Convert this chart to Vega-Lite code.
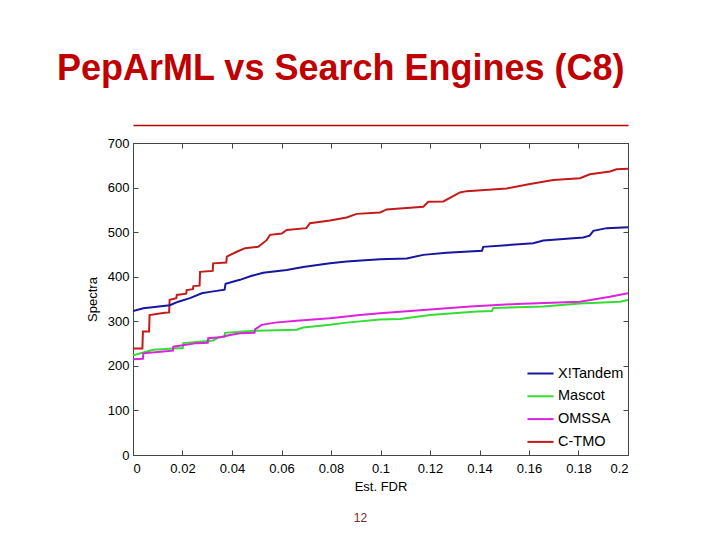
{
  "$schema": "https://vega.github.io/schema/vega-lite/v6.json",
  "autosize": "none",
  "width": 495,
  "height": 312,
  "padding": {"left": 133, "top": 143, "right": 92, "bottom": 85},
  "background": "white",
  "title": {
    "text": "PepArML vs Search Engines (C8)",
    "anchor": "start",
    "frame": "group",
    "dx": -76,
    "offset": 37,
    "fontSize": 36,
    "font": "Liberation Sans",
    "fontWeight": "bold",
    "color": "#c00000"
  },
  "config": {
    "view": {"stroke": "#555555", "strokeWidth": 1},
    "font": "Liberation Sans",
    "axis": {"grid": false, "domainColor": "#444444", "tickColor": "#444444", "labelColor": "#000000", "titleColor": "#000000", "labelFont": "Liberation Sans", "titleFont": "Liberation Sans", "labelFontSize": 13, "titleFontSize": 13, "titleFontWeight": "normal"}
  },
  "data": {
    "values": [
      {"engine": "C-TMO", "fdr": 0, "spectra": 239},
      {"engine": "C-TMO", "fdr": 0.0038, "spectra": 239},
      {"engine": "C-TMO", "fdr": 0.004, "spectra": 277},
      {"engine": "C-TMO", "fdr": 0.0065, "spectra": 277},
      {"engine": "C-TMO", "fdr": 0.0067, "spectra": 314},
      {"engine": "C-TMO", "fdr": 0.0128, "spectra": 319},
      {"engine": "C-TMO", "fdr": 0.0146, "spectra": 320},
      {"engine": "C-TMO", "fdr": 0.0148, "spectra": 348},
      {"engine": "C-TMO", "fdr": 0.0175, "spectra": 352},
      {"engine": "C-TMO", "fdr": 0.0177, "spectra": 359},
      {"engine": "C-TMO", "fdr": 0.0215, "spectra": 362},
      {"engine": "C-TMO", "fdr": 0.0217, "spectra": 370},
      {"engine": "C-TMO", "fdr": 0.0242, "spectra": 372},
      {"engine": "C-TMO", "fdr": 0.0244, "spectra": 379},
      {"engine": "C-TMO", "fdr": 0.0269, "spectra": 380},
      {"engine": "C-TMO", "fdr": 0.0271, "spectra": 411},
      {"engine": "C-TMO", "fdr": 0.0322, "spectra": 413},
      {"engine": "C-TMO", "fdr": 0.0324, "spectra": 430},
      {"engine": "C-TMO", "fdr": 0.0377, "spectra": 432},
      {"engine": "C-TMO", "fdr": 0.0379, "spectra": 445},
      {"engine": "C-TMO", "fdr": 0.0419, "spectra": 456},
      {"engine": "C-TMO", "fdr": 0.0453, "spectra": 464},
      {"engine": "C-TMO", "fdr": 0.0506, "spectra": 467},
      {"engine": "C-TMO", "fdr": 0.054, "spectra": 482},
      {"engine": "C-TMO", "fdr": 0.0554, "spectra": 494},
      {"engine": "C-TMO", "fdr": 0.0601, "spectra": 497},
      {"engine": "C-TMO", "fdr": 0.0621, "spectra": 505},
      {"engine": "C-TMO", "fdr": 0.07, "spectra": 509},
      {"engine": "C-TMO", "fdr": 0.0715, "spectra": 520},
      {"engine": "C-TMO", "fdr": 0.0796, "spectra": 526},
      {"engine": "C-TMO", "fdr": 0.0863, "spectra": 533},
      {"engine": "C-TMO", "fdr": 0.0904, "spectra": 541},
      {"engine": "C-TMO", "fdr": 0.0998, "spectra": 544},
      {"engine": "C-TMO", "fdr": 0.1025, "spectra": 551},
      {"engine": "C-TMO", "fdr": 0.1173, "spectra": 557},
      {"engine": "C-TMO", "fdr": 0.1193, "spectra": 568},
      {"engine": "C-TMO", "fdr": 0.1254, "spectra": 569},
      {"engine": "C-TMO", "fdr": 0.1321, "spectra": 589},
      {"engine": "C-TMO", "fdr": 0.1348, "spectra": 592},
      {"engine": "C-TMO", "fdr": 0.151, "spectra": 598},
      {"engine": "C-TMO", "fdr": 0.1604, "spectra": 608},
      {"engine": "C-TMO", "fdr": 0.1698, "spectra": 617},
      {"engine": "C-TMO", "fdr": 0.1806, "spectra": 621},
      {"engine": "C-TMO", "fdr": 0.1846, "spectra": 630},
      {"engine": "C-TMO", "fdr": 0.1927, "spectra": 636},
      {"engine": "C-TMO", "fdr": 0.1954, "spectra": 641},
      {"engine": "C-TMO", "fdr": 0.2, "spectra": 642},

      {"engine": "X!Tandem", "fdr": 0, "spectra": 323},
      {"engine": "X!Tandem", "fdr": 0.0042, "spectra": 329},
      {"engine": "X!Tandem", "fdr": 0.0149, "spectra": 336},
      {"engine": "X!Tandem", "fdr": 0.0183, "spectra": 344},
      {"engine": "X!Tandem", "fdr": 0.023, "spectra": 352},
      {"engine": "X!Tandem", "fdr": 0.0278, "spectra": 363},
      {"engine": "X!Tandem", "fdr": 0.0311, "spectra": 366},
      {"engine": "X!Tandem", "fdr": 0.037, "spectra": 371},
      {"engine": "X!Tandem", "fdr": 0.0374, "spectra": 384},
      {"engine": "X!Tandem", "fdr": 0.0432, "spectra": 393},
      {"engine": "X!Tandem", "fdr": 0.048, "spectra": 402},
      {"engine": "X!Tandem", "fdr": 0.0526, "spectra": 409},
      {"engine": "X!Tandem", "fdr": 0.0621, "spectra": 415},
      {"engine": "X!Tandem", "fdr": 0.0688, "spectra": 422},
      {"engine": "X!Tandem", "fdr": 0.0796, "spectra": 430},
      {"engine": "X!Tandem", "fdr": 0.0863, "spectra": 434},
      {"engine": "X!Tandem", "fdr": 0.0998, "spectra": 439},
      {"engine": "X!Tandem", "fdr": 0.1106, "spectra": 441},
      {"engine": "X!Tandem", "fdr": 0.1173, "spectra": 449},
      {"engine": "X!Tandem", "fdr": 0.1267, "spectra": 454},
      {"engine": "X!Tandem", "fdr": 0.141, "spectra": 458},
      {"engine": "X!Tandem", "fdr": 0.1415, "spectra": 467},
      {"engine": "X!Tandem", "fdr": 0.1617, "spectra": 475},
      {"engine": "X!Tandem", "fdr": 0.1658, "spectra": 481},
      {"engine": "X!Tandem", "fdr": 0.1819, "spectra": 488},
      {"engine": "X!Tandem", "fdr": 0.1845, "spectra": 492},
      {"engine": "X!Tandem", "fdr": 0.186, "spectra": 503},
      {"engine": "X!Tandem", "fdr": 0.1914, "spectra": 509},
      {"engine": "X!Tandem", "fdr": 0.2, "spectra": 511},

      {"engine": "Mascot", "fdr": 0, "spectra": 224},
      {"engine": "Mascot", "fdr": 0.0042, "spectra": 230},
      {"engine": "Mascot", "fdr": 0.0082, "spectra": 236},
      {"engine": "Mascot", "fdr": 0.0163, "spectra": 239},
      {"engine": "Mascot", "fdr": 0.0201, "spectra": 240},
      {"engine": "Mascot", "fdr": 0.0203, "spectra": 251},
      {"engine": "Mascot", "fdr": 0.0324, "spectra": 257},
      {"engine": "Mascot", "fdr": 0.0345, "spectra": 264},
      {"engine": "Mascot", "fdr": 0.037, "spectra": 265},
      {"engine": "Mascot", "fdr": 0.0372, "spectra": 274},
      {"engine": "Mascot", "fdr": 0.0446, "spectra": 277},
      {"engine": "Mascot", "fdr": 0.05, "spectra": 279},
      {"engine": "Mascot", "fdr": 0.0661, "spectra": 281},
      {"engine": "Mascot", "fdr": 0.0688, "spectra": 286},
      {"engine": "Mascot", "fdr": 0.0796, "spectra": 292},
      {"engine": "Mascot", "fdr": 0.0863, "spectra": 297},
      {"engine": "Mascot", "fdr": 0.0998, "spectra": 304},
      {"engine": "Mascot", "fdr": 0.1079, "spectra": 305},
      {"engine": "Mascot", "fdr": 0.12, "spectra": 314},
      {"engine": "Mascot", "fdr": 0.1389, "spectra": 322},
      {"engine": "Mascot", "fdr": 0.145, "spectra": 323},
      {"engine": "Mascot", "fdr": 0.1456, "spectra": 330},
      {"engine": "Mascot", "fdr": 0.1658, "spectra": 333},
      {"engine": "Mascot", "fdr": 0.1806, "spectra": 340},
      {"engine": "Mascot", "fdr": 0.1968, "spectra": 344},
      {"engine": "Mascot", "fdr": 0.2, "spectra": 348},

      {"engine": "OMSSA", "fdr": 0, "spectra": 215},
      {"engine": "OMSSA", "fdr": 0.004, "spectra": 216},
      {"engine": "OMSSA", "fdr": 0.0042, "spectra": 228},
      {"engine": "OMSSA", "fdr": 0.0122, "spectra": 232},
      {"engine": "OMSSA", "fdr": 0.0161, "spectra": 234},
      {"engine": "OMSSA", "fdr": 0.0163, "spectra": 243},
      {"engine": "OMSSA", "fdr": 0.0257, "spectra": 251},
      {"engine": "OMSSA", "fdr": 0.0302, "spectra": 252},
      {"engine": "OMSSA", "fdr": 0.0304, "spectra": 262},
      {"engine": "OMSSA", "fdr": 0.0352, "spectra": 264},
      {"engine": "OMSSA", "fdr": 0.0392, "spectra": 269},
      {"engine": "OMSSA", "fdr": 0.0432, "spectra": 273},
      {"engine": "OMSSA", "fdr": 0.0491, "spectra": 274},
      {"engine": "OMSSA", "fdr": 0.0493, "spectra": 282},
      {"engine": "OMSSA", "fdr": 0.052, "spectra": 292},
      {"engine": "OMSSA", "fdr": 0.0574, "spectra": 297},
      {"engine": "OMSSA", "fdr": 0.0661, "spectra": 301},
      {"engine": "OMSSA", "fdr": 0.0796, "spectra": 307},
      {"engine": "OMSSA", "fdr": 0.0917, "spectra": 314},
      {"engine": "OMSSA", "fdr": 0.0998, "spectra": 318},
      {"engine": "OMSSA", "fdr": 0.116, "spectra": 325},
      {"engine": "OMSSA", "fdr": 0.1362, "spectra": 333},
      {"engine": "OMSSA", "fdr": 0.155, "spectra": 339},
      {"engine": "OMSSA", "fdr": 0.1806, "spectra": 344},
      {"engine": "OMSSA", "fdr": 0.1927, "spectra": 355},
      {"engine": "OMSSA", "fdr": 0.2, "spectra": 363}
    ]
  },
  "resolve": {"axis": {"x": "independent", "y": "independent"}},
  "layer": [
    {
      "mark": {"type": "line", "strokeWidth": 2, "clip": true},
      "encoding": {
        "x": {
          "field": "fdr", "type": "quantitative",
          "scale": {"domain": [0, 0.2], "nice": false, "zero": false},
          "axis": {
            "title": "Est. FDR", "orient": "bottom",
            "values": [0, 0.02, 0.04, 0.06, 0.08, 0.1, 0.12, 0.14, 0.16, 0.18, 0.2],
            "format": "~g", "tickSize": -5, "labelPadding": 12,
            "titleY": 35, "titleBaseline": "alphabetic"
          }
        },
        "y": {
          "field": "spectra", "type": "quantitative",
          "scale": {"domain": [0, 700], "nice": false},
          "axis": {
            "title": "Spectra", "orient": "left",
            "values": [0, 100, 200, 300, 400, 500, 600, 700],
            "tickSize": -5, "labelPadding": 9, "titlePadding": 8
          }
        },
        "color": {
          "field": "engine", "type": "nominal",
          "scale": {
            "domain": ["X!Tandem", "Mascot", "OMSSA", "C-TMO"],
            "range": ["#1616a0", "#33dd33", "#dd22dd", "#c41a1a"]
          },
          "legend": {
            "title": null, "orient": "none", "legendX": 393, "legendY": 216,
            "symbolType": "stroke", "symbolSize": 680, "symbolStrokeWidth": 2,
            "labelFont": "Liberation Sans", "labelFontSize": 14.5, "labelColor": "#000000",
            "labelOffset": 3, "rowPadding": 1.8
          }
        }
      }
    },
    {
      "mark": {"type": "point", "opacity": 0},
      "encoding": {
        "x": {
          "field": "fdr", "type": "quantitative",
          "scale": {"domain": [0, 0.2], "nice": false, "zero": false},
          "axis": {"title": null, "orient": "top", "labels": false, "tickSize": -5,
            "values": [0, 0.02, 0.04, 0.06, 0.08, 0.1, 0.12, 0.14, 0.16, 0.18, 0.2]}
        },
        "y": {
          "field": "spectra", "type": "quantitative",
          "scale": {"domain": [0, 700], "nice": false},
          "axis": {"title": null, "orient": "right", "labels": false, "tickSize": -5,
            "values": [0, 100, 200, 300, 400, 500, 600, 700]}
        }
      }
    },
    {
      "mark": {"type": "point", "opacity": 0},
      "encoding": {
        "x": {
          "field": "fdr", "type": "quantitative",
          "scale": {"domain": [0, 0.2], "nice": false, "zero": false},
          "axis": {"title": null, "orient": "top", "offset": 18, "labels": false, "ticks": false,
            "domainColor": "#c00000", "domainWidth": 1.5}
        },
        "y": {"field": "spectra", "type": "quantitative", "scale": {"domain": [0, 700], "nice": false}, "axis": null}
      }
    },
    {
      "mark": {"type": "point", "opacity": 0},
      "encoding": {
        "x": {
          "field": "fdr", "type": "quantitative",
          "scale": {"domain": [0, 0.2], "nice": false, "zero": false},
          "axis": {"title": "12", "orient": "bottom", "labels": false, "ticks": false, "domain": false,
            "titleX": 227, "titleY": 66, "titleBaseline": "alphabetic", "titleFontSize": 12,
            "titleColor": "#7a2a2a", "titleFontWeight": "normal"}
        },
        "y": {"field": "spectra", "type": "quantitative", "scale": {"domain": [0, 700], "nice": false}, "axis": null}
      }
    }
  ]
}
